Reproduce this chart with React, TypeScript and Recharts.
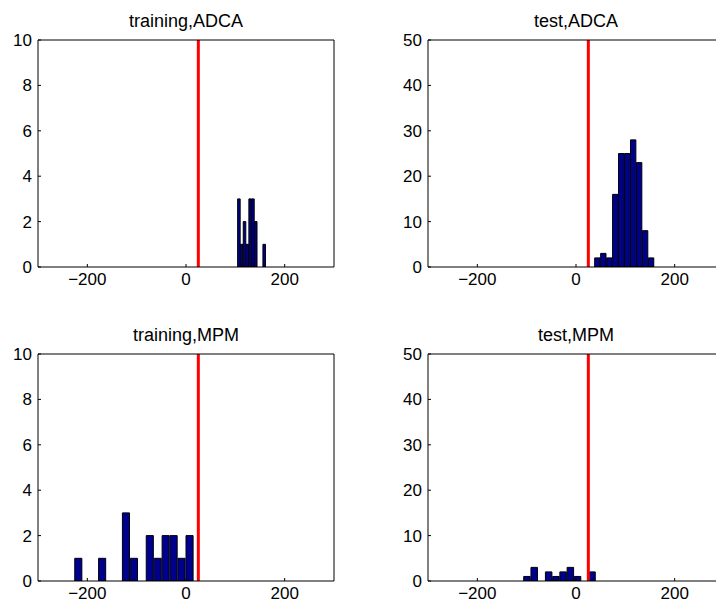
import React from 'react';
import { BarChart, Bar, XAxis, YAxis, ReferenceLine } from 'recharts';

// ---- data ----
const xTicks = [-200, 0, 200];
const trainingYTicks = [0, 2, 4, 6, 8, 10];
const testYTicks = [0, 10, 20, 30, 40, 50];
const thresholdX = 25;

const trainingAdcaCenters = [107.5, 113.2, 118.9, 124.6, 130.3, 136.0, 141.7, 147.4, 153.1, 158.8];
const trainingAdcaCounts = [3, 1, 2, 1, 3, 3, 2, 0, 0, 1];
const trainingAdcaBinWidth = 5.7;

const testAdcaCenters = [43.9, 56.0, 68.1, 80.2, 92.3, 104.4, 116.5, 128.6, 140.7, 152.8];
const testAdcaCounts = [2, 3, 2, 16, 25, 25, 28, 23, 8, 2];
const testAdcaBinWidth = 12.1;

const trainingMpmCenters = [-217.5, -201.4, -185.2, -169.2, -153.1, -137.0, -120.9, -104.8, -88.7, -72.6, -56.5, -40.4, -24.3, -8.2, 8.0];
const trainingMpmCounts = [1, 0, 0, 1, 0, 0, 3, 1, 0, 2, 1, 2, 2, 1, 2];
const trainingMpmBinWidth = 16.1;

const testMpmCenters = [-98.7, -84.0, -69.4, -54.7, -40.0, -25.4, -10.7, 3.9, 18.6, 33.2];
const testMpmCounts = [1, 3, 0, 2, 1, 2, 3, 1, 0, 2];
const testMpmBinWidth = 14.65;

// ---- layout ----
const FONT = '"Liberation Sans", Arial, Helvetica, sans-serif';
const PLOT_W = 296;
const PLOT_H = 227;
const Y_AXIS_W = 38;
const TOP_M = 40;
const X_AXIS_H = 30;
const X_MIN = -300;
const X_MAX = 300;

const fmt = (v: number) => (v < 0 ? `\u2212${-v}` : `${v}`);

type PanelProps = {
  plotLeft: number;
  plotTop: number;
  title: string;
  centers: number[];
  counts: number[];
  binWidth: number;
  yTicks: number[];
};

function Panel({ plotLeft, plotTop, title, centers, counts, binWidth, yTicks }: PanelProps) {
  const data = centers.map((c, i) => ({ x: c, count: counts[i] }));
  const yMax = yTicks[yTicks.length - 1];
  const barSize = (binWidth * PLOT_W) / (X_MAX - X_MIN);
  const tickStyle = { fill: '#000', fontSize: 17, fontFamily: FONT };
  const line = { stroke: '#000', strokeWidth: 1 };
  return (
    <>
      <div
        style={{
          position: 'absolute',
          left: plotLeft,
          top: plotTop - 28,
          width: PLOT_W,
          textAlign: 'center',
          fontFamily: FONT,
          fontSize: 18,
          lineHeight: '18px',
          color: '#000',
        }}
      >
        {title}
      </div>
      <div style={{ position: 'absolute', left: plotLeft - Y_AXIS_W, top: plotTop - TOP_M }}>
        <BarChart
          width={Y_AXIS_W + PLOT_W + 2}
          height={TOP_M + PLOT_H + X_AXIS_H}
          data={data}
          margin={{ top: TOP_M - 1, right: 1, bottom: 0, left: 0 }}
          barGap={0}
          barCategoryGap={0}
        >
          <XAxis
            dataKey="x"
            type="number"
            domain={[X_MIN, X_MAX]}
            ticks={xTicks}
            interval={0}
            allowDataOverflow
            tickFormatter={fmt}
            tickSize={-3}
            tickMargin={9}
            height={X_AXIS_H}
            axisLine={line}
            tickLine={line}
            tick={tickStyle}
          />
          <XAxis
            xAxisId="top"
            dataKey="x"
            orientation="top"
            type="number"
            domain={[X_MIN, X_MAX]}
            ticks={xTicks}
            interval={0}
            allowDataOverflow
            tickSize={-3}
            height={1}
            tick={false}
            axisLine={line}
            tickLine={line}
          />
          <YAxis
            type="number"
            domain={[0, yMax]}
            ticks={yTicks}
            interval={0}
            allowDataOverflow
            width={Y_AXIS_W}
            tickSize={-3}
            tickMargin={9}
            axisLine={line}
            tickLine={line}
            tick={tickStyle}
          />
          <YAxis
            yAxisId="right"
            orientation="right"
            type="number"
            domain={[0, yMax]}
            ticks={yTicks}
            interval={0}
            allowDataOverflow
            width={1}
            tickSize={-3}
            tick={false}
            axisLine={line}
            tickLine={line}
          />
          <Bar
            dataKey="count"
            fill="#00008F"
            stroke="#000"
            strokeWidth={1}
            barSize={barSize}
            isAnimationActive={false}
          />
          <ReferenceLine x={thresholdX} stroke="#FF0000" strokeWidth={3} />
        </BarChart>
      </div>
    </>
  );
}

export default function App() {
  return (
    <div
      style={{
        position: 'absolute',
        left: 0,
        top: 0,
        width: 716,
        height: 607,
        overflow: 'hidden',
        background: '#fff',
      }}
    >
      <Panel plotLeft={38} plotTop={40} title="training,ADCA" centers={trainingAdcaCenters} counts={trainingAdcaCounts} binWidth={trainingAdcaBinWidth} yTicks={trainingYTicks} />
      <Panel plotLeft={428} plotTop={40} title="test,ADCA" centers={testAdcaCenters} counts={testAdcaCounts} binWidth={testAdcaBinWidth} yTicks={testYTicks} />
      <Panel plotLeft={38} plotTop={354} title="training,MPM" centers={trainingMpmCenters} counts={trainingMpmCounts} binWidth={trainingMpmBinWidth} yTicks={trainingYTicks} />
      <Panel plotLeft={428} plotTop={354} title="test,MPM" centers={testMpmCenters} counts={testMpmCounts} binWidth={testMpmBinWidth} yTicks={testYTicks} />
    </div>
  );
}
